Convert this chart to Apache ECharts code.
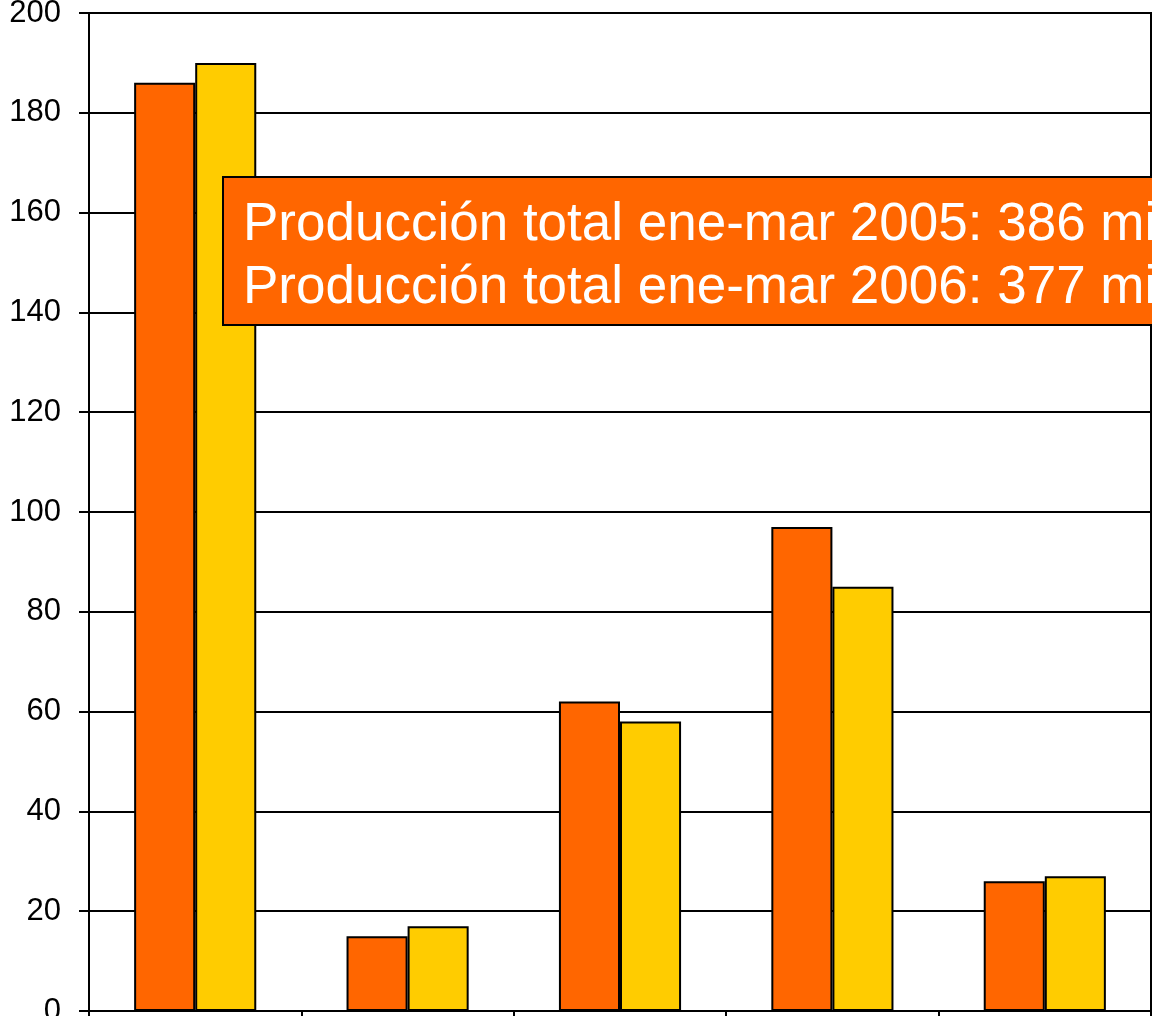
<!DOCTYPE html>
<html>
<head>
<meta charset="utf-8">
<script src="https://cdn.jsdelivr.net/npm/echarts@6/dist/echarts.min.js"></script>
<style>html,body{margin:0;padding:0;background:#fff;}#c{width:1152px;height:1016px;}</style>
</head>
<body>
<div id="c"></div>
<script>
const categories = ['Cat 1', 'Cat 2', 'Cat 3', 'Cat 4', 'Cat 5'];
const series2005 = [186, 15, 62, 97, 26];
const series2006 = [190, 17, 58, 85, 27];
const seriesNames = ['ene-mar 2005', 'ene-mar 2006'];
const noteLines = [
  'Producción total ene-mar 2005: 386 mil toneladas',
  'Producción total ene-mar 2006: 377 mil toneladas'
];

const chart = echarts.init(document.getElementById('c'), null, {renderer: 'canvas'});
const font = '"Liberation Sans", Arial, sans-serif';
chart.setOption({
  animation: false,
  backgroundColor: '#fff',
  grid: {left: 89, top: 13, right: 1, bottom: 5, show: true, borderColor: '#000', borderWidth: 2,
         containLabel: false, outerBoundsMode: 'none'},
  xAxis: {
    type: 'category',
    data: categories,
    axisLine: {lineStyle: {color: '#000', width: 2}},
    axisTick: {show: true, length: 10, lineStyle: {color: '#000', width: 2}},
    axisLabel: {fontFamily: font, fontSize: 31, color: '#000', margin: 20}
  },
  yAxis: {
    type: 'value',
    min: 0, max: 200, interval: 20,
    axisLine: {show: true, lineStyle: {color: '#000', width: 2}},
    axisTick: {show: true, length: 10, lineStyle: {color: '#000', width: 2}},
    axisLabel: {fontFamily: font, fontSize: 31, color: '#000', margin: 28},
    splitLine: {show: true, lineStyle: {color: '#000', width: 2}}
  },
  series: [
    {name: seriesNames[0], type: 'bar', data: series2005, barGap: '0%', barCategoryGap: '42.5%',
     itemStyle: {color: '#FF6600', borderColor: '#000', borderWidth: 2}},
    {name: seriesNames[1], type: 'bar', data: series2006, barGap: '0%', barCategoryGap: '42.5%',
     itemStyle: {color: '#FFCC00', borderColor: '#000', borderWidth: 2}}
  ],
  graphic: [
    {type: 'rect', left: 222, top: 176, z: 100,
     shape: {width: 1100, height: 148},
     style: {fill: '#FF6600', stroke: '#000', lineWidth: 2}},
    {type: 'text', x: 243, y: 225, z: 101,
     style: {text: noteLines[0], fill: '#fff', font: '53px ' + font, verticalAlign: 'middle'}},
    {type: 'text', x: 243, y: 288, z: 101,
     style: {text: noteLines[1], fill: '#fff', font: '53px ' + font, verticalAlign: 'middle'}}
  ]
});
</script>
</body>
</html>
